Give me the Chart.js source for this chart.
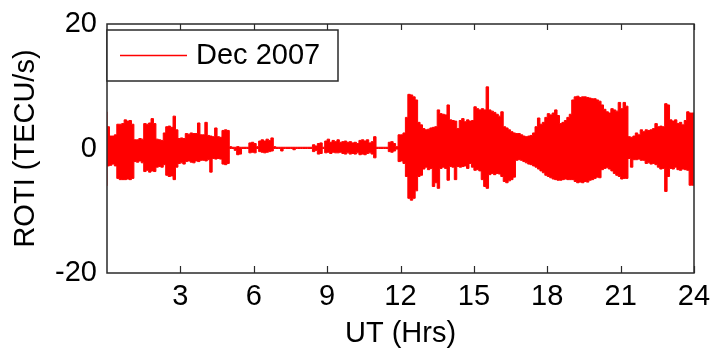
<!DOCTYPE html>
<html lang="en">
<head>
  <meta charset="UTF-8" />
  <title>ROTI Dec 2007</title>
  <script src="https://cdn.jsdelivr.net/npm/chart.js"></script>
  <style>
    html, body { margin: 0; padding: 0; background: #fff; }
    #wrap { width: 710px; height: 353px; }
  </style>
</head>
<body>
  <div id="wrap"><canvas id="roti"></canvas></div>

  <script>
    // ROTI envelope, one value per 0.1 h bin (10 bins per line = 1 hour)
    const seriesLabel = "Dec 2007";
    const binHours = 0.1;
    const upper = [
      5.9,3.5,2.0,2.0,2.2,3.9,3.9,4.0,4.6,4.4,
      4.5,3.9,1.4,1.4,1.6,1.5,4.0,3.9,4.1,4.8,
      4.0,1.5,1.4,1.3,2.5,3.5,3.6,3.4,5.2,3.0,
      1.6,1.7,1.6,2.4,2.3,2.5,2.4,2.4,4.1,2.2,
      2.2,4.2,2.1,2.0,1.9,3.3,1.9,1.8,2.9,3.0,
      2.9,0.3,0.2,0.2,0.3,0.2,0.2,0.2,0.2,0.9,
      1.0,0.8,0.3,1.2,1.4,1.2,1.5,1.3,1.7,0.3,
      0.2,0.2,0.2,0.2,0.2,0.2,0.2,0.2,0.2,0.2,
      0.2,0.2,0.2,0.2,0.2,0.6,0.4,0.8,0.9,0.2,
      1.2,1.5,1.0,1.3,1.1,1.4,1.0,1.1,1.2,1.0,
      1.1,0.9,1.0,0.8,1.3,1.4,1.2,1.4,0.9,1.1,
      1.9,0.2,0.2,0.2,0.2,0.2,1.0,1.1,0.8,0.3,
      2.2,2.2,2.5,5.0,8.7,8.6,8.3,7.8,4.2,3.8,
      3.2,3.0,3.1,3.3,3.4,3.5,6.2,5.6,5.5,5.4,
      7.0,4.6,4.5,4.4,3.2,4.5,4.8,4.3,4.6,4.4,
      4.5,6.7,6.4,6.2,6.4,6.2,9.9,6.2,6.0,5.8,
      5.5,5.2,5.9,3.5,3.3,3.0,2.7,2.5,2.4,2.4,
      2.2,2.0,1.9,2.0,2.1,2.5,3.5,4.9,3.9,4.2,
      5.0,5.6,5.4,5.7,6.2,5.3,4.0,4.2,4.5,5.0,
      5.5,7.8,8.3,8.4,8.2,8.3,8.3,8.2,8.1,8.0,
      8.0,7.8,7.6,7.0,6.3,5.9,5.7,6.4,6.2,6.0,
      7.4,6.4,7.4,6.8,1.9,1.8,2.0,2.5,2.2,3.0,
      2.7,3.0,2.9,3.0,3.2,4.0,3.5,3.6,3.5,7.2,
      7.0,4.6,4.4,4.6,4.0,4.2,3.8,4.5,5.9,5.7
    ];
    const lower = [
      -6.0,-2.8,-2.7,-2.5,-2.8,-4.8,-5.0,-5.0,-5.0,-4.9,
      -5.0,-4.8,-2.1,-2.2,-2.0,-2.3,-3.7,-3.5,-3.8,-3.6,
      -3.7,-3.0,-2.9,-3.0,-2.6,-4.3,-4.5,-4.4,-5.0,-3.0,
      -2.4,-2.3,-2.5,-2.1,-2.0,-2.2,-2.3,-2.0,-2.1,-1.9,
      -1.9,-2.0,-1.8,-3.8,-1.6,-1.7,-1.6,-1.7,-2.5,-2.6,
      -2.4,0.0,0.0,-0.3,-1.0,-0.9,0.0,0.0,0.0,-0.7,
      -0.6,-0.7,0.0,-0.5,-0.6,-0.7,-0.6,-0.5,-0.4,0.0,
      0.0,0.0,-0.4,0.0,0.0,0.0,0.0,-0.2,0.0,0.0,
      0.0,0.0,0.0,0.0,0.0,-0.5,-0.3,-0.9,-0.8,0.0,
      -0.7,-0.6,-0.8,-0.6,-0.7,-0.7,-0.6,-0.8,-0.9,-0.7,
      -0.9,-0.8,-0.9,-0.7,-1.0,-0.9,-1.0,-0.8,-0.7,-0.9,
      -1.5,0.0,0.0,0.0,0.0,0.0,-0.5,-0.6,-0.4,-0.1,
      -2.1,-2.0,-2.4,-4.5,-8.0,-8.3,-8.0,-6.8,-4.5,-4.3,
      -3.3,-3.0,-3.4,-3.2,-6.1,-5.5,-6.4,-3.2,-3.0,-3.2,
      -5.1,-2.9,-3.0,-5.0,-2.9,-3.0,-2.9,-2.8,-3.2,-2.4,
      -3.0,-3.5,-3.4,-3.6,-5.0,-6.1,-6.4,-4.2,-4.0,-4.2,
      -4.0,-4.1,-4.5,-5.3,-5.5,-5.2,-5.0,-4.6,-1.9,-1.8,
      -1.9,-2.1,-2.3,-2.5,-2.6,-2.8,-3.0,-3.3,-3.6,-3.9,
      -4.3,-4.5,-4.7,-4.9,-5.0,-5.1,-5.1,-5.0,-4.9,-5.0,
      -5.0,-5.0,-5.3,-5.5,-5.4,-5.5,-5.3,-5.4,-5.1,-5.0,
      -4.8,-4.6,-4.7,-3.4,-3.2,-3.1,-3.3,-3.6,-4.0,-4.3,
      -4.5,-4.9,-4.8,-4.8,-1.6,-3.0,-1.8,-1.8,-1.7,-1.9,
      -1.9,-2.4,-2.3,-2.5,-2.4,-2.6,-3.0,-3.3,-3.2,-6.9,
      -4.5,-3.2,-3.3,-3.0,-3.4,-3.5,-3.3,-3.4,-3.5,-5.9
    ];
    const xTicks = [3, 6, 9, 12, 15, 18, 21, 24];
    const yTicks = [-20, 0, 20];
    const dayEnd = 24;

    // bins drawn as steps; the last bin is closed at the end of the day
    const toSteps = arr => arr.map((v, i) => ({ x: i * binHours, y: v }))
      .concat([{ x: dayEnd, y: arr[arr.length - 1] }]);

    const FONT = "Arial, 'Liberation Sans', sans-serif";
    const INK = "#2a2a2a";
    const RED = "#ff0000";

    // box round the plot, inward x ticks, and the legend inside the plot
    const framePlugin = {
      id: "frame",
      afterDatasetsDraw(chart) {
        const { ctx, chartArea: a, scales } = chart;
        ctx.save();
        ctx.strokeStyle = INK;
        ctx.lineWidth = 1.5;
        ctx.strokeRect(a.left, a.top, a.right - a.left, a.bottom - a.top);

        ctx.lineWidth = 1.2;
        xTicks.forEach(v => {
          const px = Math.round(scales.x.getPixelForValue(v)) + 0.5;
          ctx.beginPath();
          ctx.moveTo(px, a.bottom); ctx.lineTo(px, a.bottom - 7);
          ctx.moveTo(px, a.top); ctx.lineTo(px, a.top + 6);
          ctx.stroke();
        });

        // legend
        const lx = a.left, ly = a.top + 6, lw = 231, lh = 51;
        ctx.fillStyle = "#fff";
        ctx.fillRect(lx, ly, lw, lh);
        ctx.lineWidth = 1.5;
        ctx.strokeRect(lx, ly, lw, lh);
        ctx.strokeStyle = RED;
        ctx.lineWidth = 1.5;
        ctx.beginPath();
        ctx.moveTo(lx + 13, ly + 25.5); ctx.lineTo(lx + 80, ly + 25.5);
        ctx.stroke();
        ctx.fillStyle = "#000";
        ctx.font = "29px " + FONT;
        ctx.textBaseline = "middle";
        ctx.textAlign = "left";
        ctx.fillText(seriesLabel, lx + 89, ly + 26);
        ctx.restore();
      }
    };

    new Chart(document.getElementById("roti"), {
      type: "line",
      data: {
        datasets: [{
          label: seriesLabel + " min",
          data: toSteps(lower),
          borderColor: RED,
          borderWidth: 1,
          pointRadius: 0,
          stepped: "after",
          fill: false
        }, {
          label: seriesLabel,
          data: toSteps(upper),
          borderColor: RED,
          backgroundColor: RED,
          borderWidth: 1,
          pointRadius: 0,
          stepped: "after",
          fill: "-1"
        }]
      },
      options: {
        responsive: true,
        maintainAspectRatio: false,
        animation: false,
        layout: { padding: { left: 0, right: 16, top: 24, bottom: 0 } },
        plugins: { legend: { display: false }, tooltip: { enabled: false } },
        scales: {
          x: {
            type: "linear",
            min: 0,
            max: dayEnd,
            grid: { display: false, drawTicks: false },
            border: { display: false },
            afterBuildTicks: s => { s.ticks = xTicks.map(v => ({ value: v })); },
            ticks: { color: "#000", font: { family: FONT, size: 29 }, padding: 7, maxRotation: 0, autoSkip: false },
            title: { display: true, text: "UT (Hrs)", color: "#000", font: { family: FONT, size: 29 }, padding: { top: 0, bottom: 2 } },
            afterFit: s => { s.height = 80; s.paddingLeft = 0; s.paddingRight = 0; }
          },
          y: {
            min: -20,
            max: 20,
            grid: { display: false, drawTicks: false },
            border: { display: false },
            afterBuildTicks: s => { s.ticks = yTicks.map(v => ({ value: v })); },
            ticks: { color: "#000", font: { family: FONT, size: 29 }, padding: 10 },
            title: { display: true, text: "ROTI (TECU/s)", color: "#000", font: { family: FONT, size: 29 }, padding: { top: 9, bottom: 0 } },
            afterFit: s => { s.width = 107; s.paddingTop = 0; s.paddingBottom = 0; }
          }
        }
      },
      plugins: [framePlugin]
    });
  </script>
</body>
</html>
